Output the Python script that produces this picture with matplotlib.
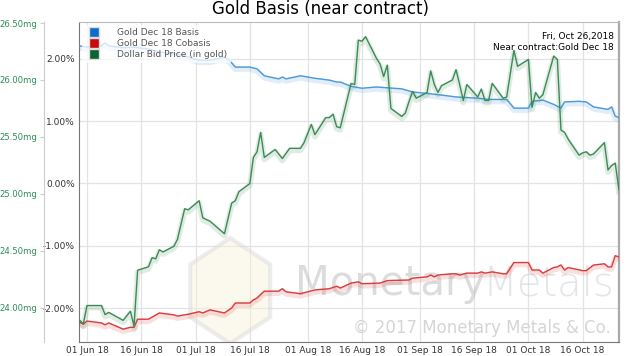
import matplotlib
matplotlib.use("Agg")
import matplotlib.pyplot as plt
import matplotlib.dates as mdates
import matplotlib.patheffects as pe
from matplotlib.lines import Line2D
from matplotlib.patches import Polygon
import pandas as pd

# Dollar bid price (in gold, mg)
green_dates = ["2018-05-30", "2018-05-31", "2018-06-01", "2018-06-05", "2018-06-06", "2018-06-07",
               "2018-06-11", "2018-06-13", "2018-06-14", "2018-06-15", "2018-06-18", "2018-06-19",
               "2018-06-20", "2018-06-21", "2018-06-22", "2018-06-25", "2018-06-26", "2018-06-28",
               "2018-06-29", "2018-07-02", "2018-07-03", "2018-07-05", "2018-07-09", "2018-07-11",
               "2018-07-12", "2018-07-13", "2018-07-16", "2018-07-17", "2018-07-18", "2018-07-19",
               "2018-07-20", "2018-07-23", "2018-07-25", "2018-07-27", "2018-07-30", "2018-07-31",
               "2018-08-02", "2018-08-03", "2018-08-06", "2018-08-07", "2018-08-08", "2018-08-09",
               "2018-08-10", "2018-08-13", "2018-08-14", "2018-08-15", "2018-08-16", "2018-08-17",
               "2018-08-20", "2018-08-21", "2018-08-22", "2018-08-23", "2018-08-24", "2018-08-27",
               "2018-08-28", "2018-08-29", "2018-08-30", "2018-08-31", "2018-09-03", "2018-09-04",
               "2018-09-05", "2018-09-06", "2018-09-07", "2018-09-10", "2018-09-11", "2018-09-12",
               "2018-09-13", "2018-09-14", "2018-09-17", "2018-09-18", "2018-09-19", "2018-09-20",
               "2018-09-21", "2018-09-24", "2018-09-25", "2018-09-27", "2018-09-28", "2018-10-01",
               "2018-10-02", "2018-10-03", "2018-10-04", "2018-10-05", "2018-10-08", "2018-10-09",
               "2018-10-10", "2018-10-11", "2018-10-12", "2018-10-15", "2018-10-16", "2018-10-17",
               "2018-10-18", "2018-10-19", "2018-10-22", "2018-10-23", "2018-10-24", "2018-10-25",
               "2018-10-26"]
green_mg = [23.89, 23.86, 24.02, 24.02, 23.94, 23.96,
            23.89, 23.97, 23.84, 24.33, 24.36, 24.44,
            24.43, 24.51, 24.49, 24.54, 24.60, 24.87,
            24.86, 24.94, 24.79, 24.76, 24.65, 24.92,
            24.94, 25.02, 25.09, 25.32, 25.37, 25.54,
            25.32, 25.39, 25.31, 25.40, 25.40, 25.45,
            25.61, 25.52, 25.67, 25.67, 25.70, 25.59,
            25.58, 25.97, 25.96, 26.35, 26.34, 26.38,
            26.19, 26.14, 26.03, 26.13, 25.75, 25.68,
            25.71, 25.81, 25.90, 25.84, 25.89, 26.08,
            25.96, 25.89, 25.95, 26.00, 26.09, 25.96,
            25.82, 25.96, 25.85, 25.92, 25.82, 25.82,
            25.97, 25.84, 25.85, 26.26, 26.12, 26.18,
            25.76, 25.89, 25.84, 25.87, 26.21, 26.18,
            25.56, 25.54, 25.48, 25.34, 25.36, 25.37,
            25.34, 25.35, 25.45, 25.21, 25.25, 25.27,
            25.04]

# Gold Dec 18 basis (%)
basis_dates = ["2018-05-30", "2018-06-01", "2018-06-05", "2018-06-06", "2018-06-07", "2018-06-11",
               "2018-06-14", "2018-06-18", "2018-06-21", "2018-06-26", "2018-06-29", "2018-07-02",
               "2018-07-05", "2018-07-09", "2018-07-10", "2018-07-12", "2018-07-16", "2018-07-18",
               "2018-07-20", "2018-07-24", "2018-07-25", "2018-07-26", "2018-07-30", "2018-08-01",
               "2018-08-03", "2018-08-07", "2018-08-09", "2018-08-10", "2018-08-13", "2018-08-16",
               "2018-08-20", "2018-08-27", "2018-08-30", "2018-09-04", "2018-09-07", "2018-09-11",
               "2018-09-17", "2018-09-20", "2018-09-25", "2018-09-27", "2018-10-01", "2018-10-02",
               "2018-10-05", "2018-10-08", "2018-10-10", "2018-10-11", "2018-10-15", "2018-10-17",
               "2018-10-19", "2018-10-23", "2018-10-24", "2018-10-25", "2018-10-26"]
basis = [2.21, 2.19, 2.21, 2.26, 2.21, 2.18,
         2.19, 2.16, 2.11, 2.08, 2.03, 1.98,
         1.98, 2.03, 2.00, 1.87, 1.87, 1.84,
         1.73, 1.68, 1.71, 1.68, 1.73, 1.71,
         1.69, 1.66, 1.63, 1.63, 1.56, 1.53,
         1.55, 1.52, 1.47, 1.44, 1.42, 1.39,
         1.37, 1.35, 1.35, 1.21, 1.21, 1.32,
         1.34, 1.27, 1.21, 1.31, 1.32, 1.31,
         1.23, 1.19, 1.23, 1.08, 1.06]

# Gold Dec 18 cobasis (%)
cobasis_dates = ["2018-05-30", "2018-05-31", "2018-06-01", "2018-06-05", "2018-06-06", "2018-06-07",
                 "2018-06-11", "2018-06-13", "2018-06-14", "2018-06-15", "2018-06-18", "2018-06-21",
                 "2018-06-25", "2018-06-26", "2018-06-29", "2018-07-02", "2018-07-03", "2018-07-05",
                 "2018-07-09", "2018-07-11", "2018-07-12", "2018-07-16", "2018-07-17", "2018-07-18",
                 "2018-07-20", "2018-07-24", "2018-07-25", "2018-07-26", "2018-07-30", "2018-08-01",
                 "2018-08-03", "2018-08-07", "2018-08-09", "2018-08-10", "2018-08-13", "2018-08-15",
                 "2018-08-16", "2018-08-21", "2018-08-23", "2018-08-29", "2018-08-30", "2018-09-03",
                 "2018-09-04", "2018-09-05", "2018-09-06", "2018-09-10", "2018-09-11", "2018-09-12",
                 "2018-09-14", "2018-09-17", "2018-09-18", "2018-09-19", "2018-09-21", "2018-09-24",
                 "2018-09-25", "2018-09-27", "2018-10-01", "2018-10-02", "2018-10-04", "2018-10-05",
                 "2018-10-08", "2018-10-09", "2018-10-10", "2018-10-11", "2018-10-12", "2018-10-16",
                 "2018-10-17", "2018-10-19", "2018-10-22", "2018-10-23", "2018-10-24", "2018-10-25",
                 "2018-10-26"]
cobasis = [-2.23, -2.26, -2.21, -2.24, -2.27, -2.24,
           -2.34, -2.31, -2.31, -2.18, -2.18, -2.08,
           -2.11, -2.13, -2.10, -2.06, -2.08, -2.03,
           -2.08, -2.00, -1.92, -1.92, -1.87, -1.84,
           -1.73, -1.73, -1.69, -1.74, -1.77, -1.74,
           -1.71, -1.69, -1.65, -1.68, -1.60, -1.58,
           -1.61, -1.60, -1.56, -1.55, -1.52, -1.50,
           -1.47, -1.50, -1.47, -1.45, -1.45, -1.47,
           -1.44, -1.44, -1.42, -1.44, -1.42, -1.45,
           -1.45, -1.27, -1.27, -1.39, -1.39, -1.44,
           -1.35, -1.34, -1.31, -1.39, -1.35, -1.40,
           -1.40, -1.31, -1.29, -1.34, -1.34, -1.16,
           -1.18]

pct_ticks = [-2, -1, 0, 1, 2]
mg_ticks = [24.0, 24.5, 25.0, 25.5, 26.0, 26.5]

blue = "#4a98dc"
red = "#dc3c3c"
green = "#3c8a55"


def glow(color):
    return [pe.Stroke(offset=(0, -1.5), linewidth=4, foreground=color, alpha=0.16), pe.Normal()]


fig = plt.figure(figsize=(6.4, 3.56), dpi=100)
ax = fig.add_axes([79 / 640, 1 - 342 / 356, 540 / 640, 320 / 356])

ax.plot(pd.to_datetime(basis_dates), basis, color=blue, lw=1.0, path_effects=glow(blue), zorder=3)
ax.plot(pd.to_datetime(cobasis_dates), cobasis, color=red, lw=1.0, path_effects=glow(red), zorder=3)
ax.set_ylim(-2.546, 2.594)
ax.set_yticks(pct_ticks)
ax.set_yticklabels(["%.2f%%" % v for v in pct_ticks])
ax.set_xlim(pd.Timestamp("2018-05-29 19:00"), pd.Timestamp("2018-10-26 01:00"))
ax.xaxis.set_major_locator(mdates.DayLocator(bymonthday=[1, 16]))
ax.xaxis.set_major_formatter(mdates.DateFormatter("%d %b %y"))
ax.grid(True, color="#e3e3e3", lw=0.9)
ax.set_axisbelow(True)
ax.tick_params(axis="both", length=0, labelsize=6.5, labelcolor="#333333", pad=3)
ax.spines["left"].set_color("#777777")
ax.spines["bottom"].set_color("#777777")
ax.spines["top"].set_color("#bbbbbb")
ax.spines["right"].set_color("#aaaaaa")
ax.spines["right"].set_linewidth(1.6)

# watermark logo and text
cx, cy, hw, hh = 0.28, 0.16, 0.074, 0.165
hexagon = [(cx, cy + hh), (cx + hw, cy + hh / 2), (cx + hw, cy - hh / 2),
           (cx, cy - hh), (cx - hw, cy - hh / 2), (cx - hw, cy + hh / 2)]
ax.add_patch(Polygon(hexagon, closed=True, transform=ax.transAxes, facecolor="#f7f0da",
                     edgecolor="#d8d8d8", lw=3, alpha=0.45, zorder=1))
ax.text(0.4, 0.18, "Monetary", transform=ax.transAxes, fontsize=29, color="#bbbbbb",
        alpha=0.5, ha="left", va="center", zorder=1)
ax.text(0.748, 0.18, "Metals", transform=ax.transAxes, fontsize=29, color="#cccccc",
        alpha=0.5, ha="left", va="center", zorder=1, fontweight="light")
ax.text(0.985, 0.045, "\u00a9 2017 Monetary Metals & Co.", transform=ax.transAxes, fontsize=12,
        color="#d5d5d5", ha="right", va="center", zorder=1)

# outer gold axis
ax_mg = ax.twinx()
ax_mg.plot(pd.to_datetime(green_dates), green_mg, color=green, lw=1.0, path_effects=glow(green), zorder=3)
ax_mg.set_ylim(23.70, 26.509)
ax_mg.set_yticks(mg_ticks)
ax_mg.set_yticklabels(["%.2fmg" % v for v in mg_ticks])
ax_mg.yaxis.set_ticks_position("left")
ax_mg.spines["left"].set_position(("outward", 25.5))
ax_mg.spines["left"].set_color("#cccccc")
for s in ["right", "top", "bottom"]:
    ax_mg.spines[s].set_visible(False)
ax_mg.tick_params(axis="y", length=3, color="#cccccc", labelsize=6.1, labelcolor="#2e8b57", pad=1.5)

handles = [Line2D([], [], ls="none", marker="s", ms=7, markerfacecolor=c, markeredgecolor="#dddddd")
           for c in ["#0a6fc8", "#c80a0a", "#07652f"]]
leg = ax_mg.legend(handles, ["Gold Dec 18 Basis", "Gold Dec 18 Cobasis", "Dollar Bid Price (in gold)"],
                   loc="upper left", bbox_to_anchor=(0.0, 1.0), fontsize=6.5, frameon=True,
                   framealpha=0.75, edgecolor="none", fancybox=False, handletextpad=1.6,
                   labelspacing=0.25, borderpad=0.35, borderaxespad=0.3)
for t in leg.get_texts():
    t.set_color("#555555")

ax_mg.text(0.99, 0.97, "Fri, Oct 26,2018", transform=ax.transAxes, fontsize=6.5, ha="right", va="top")
ax_mg.text(0.99, 0.935, "Near contract:Gold Dec 18", transform=ax.transAxes, fontsize=6.5,
           ha="right", va="top")

fig.text(0.5, 0.999, "Gold Basis (near contract)", fontsize=12, ha="center", va="top")

fig.savefig("out.png", dpi=100)
